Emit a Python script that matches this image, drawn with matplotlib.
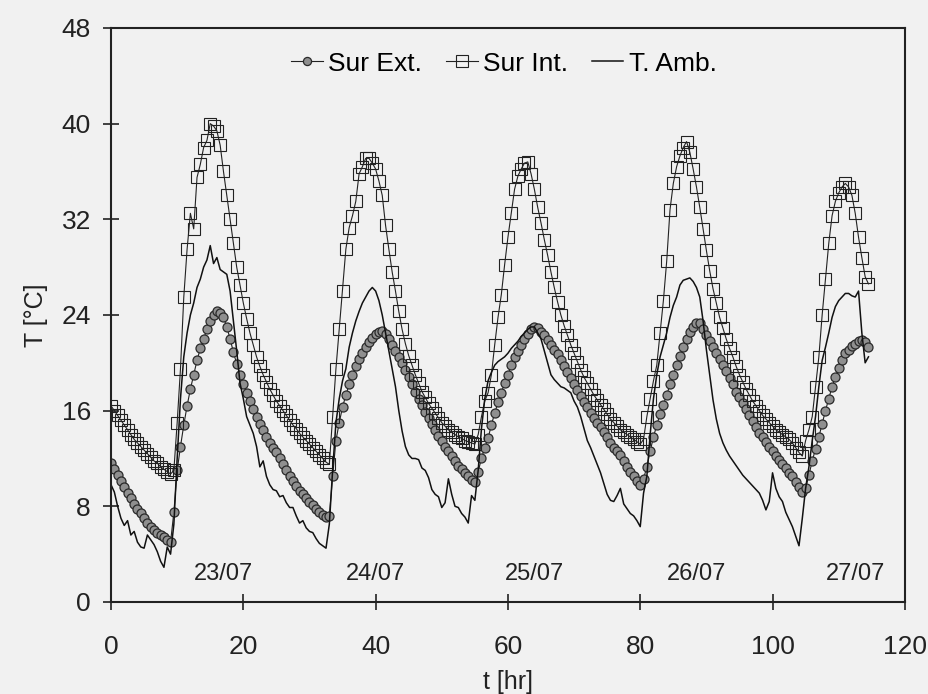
import matplotlib.pyplot as plt

plt.rcParams['font.family'] = ['Liberation Sans', 'DejaVu Sans']

# tiempo [hr], una lectura cada media hora
t_hr = [i * 0.5 for i in range(230)]

# Temperatura superficie exterior (una fila = 10 hr)
sur_ext = [11.6, 11.1, 10.6, 10.1, 9.6, 9.1, 8.7, 8.2, 7.8, 7.4, 7.0, 6.6, 6.3, 6.0, 5.8, 5.6, 5.4, 5.2, 5.0, 7.5,
           11.0, 13.0, 14.8, 16.4, 17.8, 19.0, 20.2, 21.2, 22.0, 22.8, 23.5, 24.0, 24.3, 24.2, 23.8, 23.0, 22.0, 20.9, 19.9, 19.0,
           18.2, 17.5, 16.8, 16.1, 15.5, 14.9, 14.4, 13.8, 13.3, 12.9, 12.5, 12.0, 11.5, 11.0, 10.5, 10.1, 9.7, 9.3, 9.0, 8.7,
           8.4, 8.1, 7.8, 7.5, 7.3, 7.1, 7.2, 10.5, 13.5, 15.0, 16.3, 17.3, 18.2, 19.0, 19.7, 20.3, 20.8, 21.3, 21.7, 22.1,
           22.4, 22.6, 22.7, 22.4, 22.0, 21.5, 21.0, 20.5, 20.0, 19.4, 18.8, 18.2, 17.6, 17.0, 16.5, 15.9, 15.4, 14.9, 14.4, 13.9,
           13.5, 13.0, 12.6, 12.2, 11.8, 11.4, 11.1, 10.8, 10.5, 10.2, 10.0, 10.9, 12.0, 12.9, 13.7, 14.8, 15.8, 16.7, 17.5, 18.3,
           19.0, 19.8, 20.5, 21.0, 21.5, 22.0, 22.4, 22.8, 23.0, 22.9, 22.6, 22.3, 21.9, 21.5, 21.1, 20.7, 20.2, 19.7, 19.2, 18.7,
           18.2, 17.7, 17.2, 16.7, 16.3, 15.8, 15.4, 15.0, 14.6, 14.2, 13.8, 13.3, 12.9, 12.6, 12.3, 11.8, 11.3, 10.9, 10.5, 10.1,
           9.8, 10.3, 11.3, 12.6, 13.8, 14.8, 15.7, 16.5, 17.3, 18.2, 19.0, 19.8, 20.6, 21.3, 22.0, 22.6, 23.0, 23.3, 23.3, 22.8,
           22.3, 21.8, 21.3, 20.8, 20.3, 19.8, 19.3, 18.7, 18.2, 17.6, 17.1, 16.6, 16.1, 15.6, 15.1, 14.6, 14.1, 13.8, 13.4, 13.0,
           12.6, 12.2, 11.9, 11.5, 11.2, 10.8, 10.5, 10.0, 9.6, 9.2, 9.5, 10.6, 11.8, 12.8, 13.8, 14.9, 16.0, 17.0, 18.0, 18.8,
           19.6, 20.2, 20.8, 21.1, 21.4, 21.6, 21.8, 21.9, 21.7, 21.3]

# Temperatura superficie interior
sur_int = [16.4, 16.0, 15.6, 15.2, 14.8, 14.4, 14.0, 13.6, 13.3, 13.0, 12.7, 12.4, 12.1, 11.8, 11.6, 11.3, 11.1, 10.9, 10.7, 11.0,
           15.0, 19.5, 25.5, 29.5, 32.5, 31.2, 35.5, 36.6, 38.0, 38.6, 40.0, 39.8, 39.4, 38.2, 36.0, 34.0, 32.0, 30.0, 28.0, 26.5,
           25.0, 23.7, 22.5, 21.5, 20.5, 19.7, 19.0, 18.4, 17.8, 17.3, 16.8, 16.4, 16.0, 15.6, 15.2, 14.8, 14.5, 14.1, 13.8, 13.5,
           13.2, 12.9, 12.6, 12.3, 12.0, 11.7, 11.5, 15.5, 19.5, 22.8, 26.0, 29.5, 31.3, 32.3, 33.5, 35.8, 36.4, 37.1, 37.1, 36.7,
           36.2, 35.2, 34.0, 31.5, 29.5, 27.6, 26.0, 24.3, 22.8, 21.6, 20.6, 19.8, 19.0, 18.3, 17.6, 17.1, 16.6, 16.2, 15.8, 15.4,
           15.0, 14.7, 14.4, 14.2, 14.0, 13.8, 13.7, 13.5, 13.4, 13.3, 13.2, 14.0, 15.5, 16.8, 17.5, 19.0, 21.5, 23.8, 25.7, 28.2,
           30.5, 32.5, 34.5, 35.6, 36.2, 36.7, 36.8, 35.8, 34.5, 33.0, 31.7, 30.3, 29.0, 27.6, 26.3, 25.1, 24.0, 23.1, 22.3, 21.5,
           20.8, 20.1, 19.4, 18.8, 18.3, 17.8, 17.3, 16.9, 16.5, 16.1, 15.7, 15.3, 15.0, 14.7, 14.4, 14.2, 14.0, 13.8, 13.6, 13.4,
           13.2, 13.6, 15.5, 17.0, 18.5, 19.8, 22.5, 25.2, 28.5, 32.8, 35.0, 36.4, 37.3, 38.0, 38.5, 37.6, 36.2, 34.7, 33.0, 31.2,
           29.4, 27.7, 26.2, 25.0, 23.8, 22.9, 22.0, 21.2, 20.5, 19.7, 19.0, 18.4, 17.8, 17.3, 16.8, 16.4, 16.0, 15.6, 15.3, 15.0,
           14.7, 14.4, 14.2, 14.0, 13.8, 13.6, 13.3, 12.9, 12.5, 12.2, 13.5, 14.4, 15.5, 18.0, 20.5, 24.0, 27.0, 30.0, 32.3, 33.5,
           34.2, 34.7, 35.0, 34.7, 34.0, 32.5, 30.5, 28.8, 27.2, 26.6]

# Temperatura ambiente
t_amb = [9.8, 9.2, 8.0, 7.0, 6.4, 6.8, 5.6, 5.9, 5.0, 4.6, 4.5, 5.6, 5.2, 4.8, 4.2, 3.4, 2.9, 4.6, 4.0, 6.5,
         12.0, 17.0, 20.5, 22.5, 24.0, 25.0, 26.3, 27.0, 28.0, 28.6, 29.8, 28.3, 28.8, 27.8, 27.6, 27.4, 26.0, 23.5, 21.0, 18.3,
         17.0, 15.5, 14.8, 14.1, 13.0, 11.3, 11.8, 10.5, 9.8, 9.4, 9.3, 8.8, 8.9, 8.3, 7.9, 7.9, 7.2, 6.6, 6.8, 6.2,
         5.9, 5.8, 5.3, 4.9, 4.7, 4.5, 6.5, 11.0, 15.0, 17.0, 18.5, 19.5, 21.3, 22.5, 23.5, 24.3, 25.0, 25.5, 26.0, 26.3,
         26.0, 25.2, 24.0, 22.5, 21.0, 19.5, 18.0, 16.0, 14.3, 13.0, 12.3, 12.0, 12.0, 11.9, 11.2, 11.0, 10.4, 9.4, 9.0, 8.8,
         7.9, 8.3, 10.3, 9.0, 8.0, 7.9, 7.4, 7.1, 6.6, 8.9, 8.5, 11.0, 14.5, 17.0, 18.5, 19.2, 19.8, 20.1, 20.3, 20.5,
         20.8, 21.2, 21.5, 21.8, 22.2, 22.5, 22.8, 23.0, 23.0, 22.5, 22.0, 21.0, 20.0, 19.0, 18.6, 18.3, 18.0, 17.9, 17.7, 17.5,
         16.8, 16.3, 15.5, 14.5, 13.5, 12.9, 12.2, 11.5, 10.8, 9.9, 9.0, 8.5, 8.4, 8.9, 9.5, 8.2, 7.8, 7.4, 7.2, 6.8,
         6.3, 9.1, 10.5, 14.0, 17.0, 19.0, 20.5, 21.5, 22.5, 23.8, 24.8, 25.5, 26.5, 26.9, 27.0, 27.1, 26.8, 26.3, 25.5, 23.5,
         21.1, 19.0, 16.9, 15.3, 14.1, 13.3, 12.7, 12.2, 11.8, 11.4, 11.0, 10.6, 10.3, 10.0, 9.7, 9.4, 9.1, 8.5, 7.7, 8.4,
         10.8, 9.5, 8.8, 8.4, 7.5, 6.9, 6.3, 5.5, 4.7, 7.0, 9.5, 11.3, 13.5, 15.5, 18.0, 20.2, 21.3, 22.5, 23.8, 24.7,
         25.2, 25.5, 25.8, 25.8, 25.6, 25.5, 26.0, 22.5, 20.0, 20.5]

# etiquetas de fecha
fechas = ['23/07', '24/07', '25/07', '26/07', '27/07']
fechas_t = [17, 40, 64, 88.5, 112.5]

fig = plt.figure(figsize=(9.29, 6.94), dpi=100)
fig.patch.set_facecolor('#f1f1f1')
ax = fig.add_axes([0.1195, 0.1326, 0.8545, 0.8271])
ax.set_facecolor('#f1f1f1')

ax.plot(t_hr, sur_ext, color='#222222', lw=0.8, marker='o', markersize=6.5,
        markerfacecolor='#8f8f8f', markeredgecolor='#2a2a2a', markeredgewidth=0.9,
        label='Sur Ext.')
ax.plot(t_hr, sur_int, color='#222222', lw=0.8, marker='s', markersize=9,
        markerfacecolor='none', markeredgecolor='#222222', markeredgewidth=0.8,
        label='Sur Int.')
ax.plot(t_hr, t_amb, color='#111111', lw=1.1, label='T. Amb.')

for f, tf in zip(fechas, fechas_t):
    ax.text(tf, 2.3, f, ha='center', va='center', fontsize=17, color='#222222')

ax.set_xlim(0, 120)
ax.set_ylim(0, 48)
ax.set_xticks([0, 20, 40, 60, 80, 100, 120])
ax.set_yticks([0, 8, 16, 24, 32, 40, 48])
ax.tick_params(direction='inout', length=11, width=1.2, labelsize=19,
               colors='#222222')
ax.tick_params(axis='x', pad=18)
ax.tick_params(axis='y', pad=9)
for s in ax.spines.values():
    s.set_linewidth(1.5)
    s.set_color('#222222')

ax.set_xlabel('t [hr]', fontsize=18, color='#222222', labelpad=8)
ax.set_ylabel('T [°C]', fontsize=18, color='#222222', labelpad=10)

ax.legend(loc='upper center', bbox_to_anchor=(0.495, 1.0), ncol=3, frameon=False,
          fontsize=19, handlelength=1.2, handletextpad=0.2, columnspacing=0.9,
          numpoints=1, markerscale=0.9)

fig.savefig('out.png', dpi=100, facecolor=fig.get_facecolor())
